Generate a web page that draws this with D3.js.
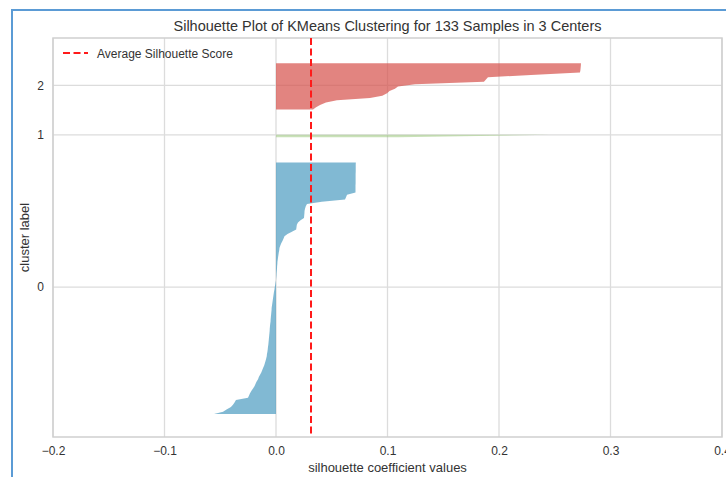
<!DOCTYPE html>
<html lang="en">
  <head>
    <meta charset="utf-8">
    <title>Silhouette Plot</title>
    <script src="https://cdn.jsdelivr.net/npm/d3@7"></script>
    <style>
      body { margin: 0; background: #fff; }
      text { font-family: "Liberation Sans", Arial, sans-serif; fill: #333; }
    </style>
  </head>
  <body>
    <script>
      // Values
      var clusterLabels = ["0", "1", "2"];
      var cluster0 = [
        -0.0556, -0.0475, -0.0440, -0.0404, -0.0386, -0.0372, -0.0359, -0.0251, -0.0242, -0.0233,
        -0.0220, -0.0206, -0.0193, -0.0184, -0.0175, -0.0161, -0.0154, -0.0143, -0.0132, -0.0123,
        -0.0115, -0.0106, -0.0100, -0.0094, -0.0088, -0.0083, -0.0081, -0.0077, -0.0074, -0.0072,
        -0.0069, -0.0067, -0.0065, -0.0063, -0.0061, -0.0059, -0.0057, -0.0056, -0.0054, -0.0052,
        -0.0049, -0.0048, -0.0046, -0.0044, -0.0042, -0.0040, -0.0039, -0.0036, -0.0033, -0.0030,
        -0.0027, -0.0024, -0.0021, -0.0018, -0.0014, -0.0011, -0.0007, -0.0004, 0.0000, 0.0002,
        0.0004, 0.0005, 0.0007, 0.0009, 0.0010, 0.0012, 0.0013, 0.0016, 0.0019, 0.0022,
        0.0025, 0.0029, 0.0031, 0.0039, 0.0047, 0.0058, 0.0067, 0.0076, 0.0103, 0.0143,
        0.0181, 0.0184, 0.0187, 0.0197, 0.0220, 0.0251, 0.0253, 0.0255, 0.0256, 0.0260,
        0.0267, 0.0278, 0.0410, 0.0619, 0.0628, 0.0637, 0.0713, 0.0713, 0.0713, 0.0713,
        0.0714, 0.0714, 0.0714, 0.0714, 0.0714, 0.0715, 0.0715, 0.0715, 0.0715, 0.0716
      ];
      var cluster1 = [0.110, 0.245];
      var cluster2 = [
        0.0332, 0.0359, 0.0395, 0.0448, 0.0547, 0.0843, 0.0953, 0.0996, 0.1018, 0.1067,
        0.1094, 0.1247, 0.1865, 0.1883, 0.1901, 0.2287, 0.2726, 0.2730, 0.2732, 0.2734,
        0.2735
      ];
      var clusterColors = ["#4b9bc0", "#9cc97e", "#d5504a"];
      var avgScore = 0.0314;
      var xTicks = [-0.2, -0.1, 0.0, 0.1, 0.2, 0.3, 0.4];

      var W = 726, H = 477;
      var margin = {top: 38, right: 4, bottom: 40, left: 53};
      var width = W - margin.left - margin.right;
      var height = H - margin.top - margin.bottom;

      var svg = d3.select("body").append("svg")
                  .attr("width", W)
                  .attr("height", H);

      // outer blue frame
      svg.append("rect")
        .attr("x", 12).attr("y", 10)
        .attr("width", 800).attr("height", 600)
        .attr("fill", "none")
        .attr("stroke", "#5b9bd5")
        .attr("stroke-width", 2);

      var g = svg.append("g")
                 .attr("transform", "translate(" + margin.left + "," + margin.top + ")");

      // stack clusters like yellowbrick: 10 units gap between them
      var clusters = [cluster0, cluster1, cluster2];
      var yLower = 10;
      var layout = clusters.map(function(vals, k) {
        var pts = vals.map(function(v, i) { return {v: v, y: yLower + i}; });
        var item = {k: k, pts: pts, mid: yLower + 0.5 * vals.length};
        yLower = yLower + vals.length + 10;
        return item;
      });
      var nTotal = cluster0.length + cluster1.length + cluster2.length;

      var x = d3.scaleLinear().domain([-0.2, 0.4]).range([0, width]);
      var y = d3.scaleLinear().domain([0, nTotal + 10 * (clusters.length + 1)]).range([height, 0]);

      // grid
      g.append("g")
        .selectAll("line")
        .data(xTicks)
        .enter().append("line")
        .attr("x1", function(d) { return x(d); })
        .attr("x2", function(d) { return x(d); })
        .attr("y1", 0).attr("y2", height)
        .attr("stroke", "#dcdcdc").attr("stroke-width", 1.3);
      g.append("g")
        .selectAll("line")
        .data(layout)
        .enter().append("line")
        .attr("x1", 0).attr("x2", width)
        .attr("y1", function(d) { return y(d.mid); })
        .attr("y2", function(d) { return y(d.mid); })
        .attr("stroke", "#dcdcdc").attr("stroke-width", 1.3);

      // silhouettes
      var area = d3.area()
                   .x0(x(0))
                   .x1(function(d) { return x(d.v); })
                   .y(function(d) { return y(d.y); });
      g.selectAll("path.sil")
        .data(layout)
        .enter().append("path")
        .attr("class", "sil")
        .attr("d", function(d) { return area(d.pts); })
        .attr("fill", function(d) { return clusterColors[d.k]; })
        .attr("fill-opacity", function(d) { return d.k === 1 ? 0.55 : 0.7; });

      // frame
      g.append("rect")
        .attr("width", width).attr("height", height)
        .attr("fill", "none")
        .attr("stroke", "#cfcfcf").attr("stroke-width", 1.5);

      // average line
      g.append("line")
        .attr("x1", x(avgScore)).attr("x2", x(avgScore))
        .attr("y1", 0).attr("y2", height)
        .attr("stroke", "#ff1a1a").attr("stroke-width", 2)
        .attr("stroke-dasharray", "7,3.5");

      // axes
      var xAxis = g.append("g")
        .attr("transform", "translate(0," + height + ")")
        .call(d3.axisBottom(x).tickValues(xTicks).tickSize(0).tickPadding(9)
          .tickFormat(function(d) { return d3.format(".1f")(d).replace("-", "\u2212"); }));
      var yAxis = g.append("g")
        .call(d3.axisLeft(y).tickValues(layout.map(function(d) { return d.mid; }))
          .tickSize(0).tickPadding(9)
          .tickFormat(function(d, i) { return clusterLabels[i]; }));
      [xAxis, yAxis].forEach(function(a) {
        a.select(".domain").remove();
        a.selectAll("text").attr("font-size", 12).attr("fill", "#333")
          .attr("font-family", "Liberation Sans, Arial, sans-serif");
      });

      // title and labels
      svg.append("text")
        .attr("x", margin.left + width / 2).attr("y", 31)
        .attr("text-anchor", "middle")
        .attr("font-size", 14.5)
        .text("Silhouette Plot of KMeans Clustering for " + nTotal + " Samples in " + clusters.length + " Centers");
      svg.append("text")
        .attr("x", margin.left + width / 2).attr("y", 472)
        .attr("text-anchor", "middle")
        .attr("font-size", 13)
        .text("silhouette coefficient values");
      svg.append("text")
        .attr("transform", "translate(29," + (margin.top + height / 2) + ") rotate(-90)")
        .attr("text-anchor", "middle")
        .attr("font-size", 13)
        .text("cluster label");

      // legend
      var leg = g.append("g").attr("transform", "translate(10,15)");
      leg.append("line")
        .attr("x1", 0).attr("x2", 25)
        .attr("stroke", "#ff1a1a").attr("stroke-width", 2)
        .attr("stroke-dasharray", "7,3.5");
      leg.append("text")
        .attr("x", 34).attr("y", 4.5)
        .attr("font-size", 12)
        .text("Average Silhouette Score");
    </script>
  </body>
</html>
